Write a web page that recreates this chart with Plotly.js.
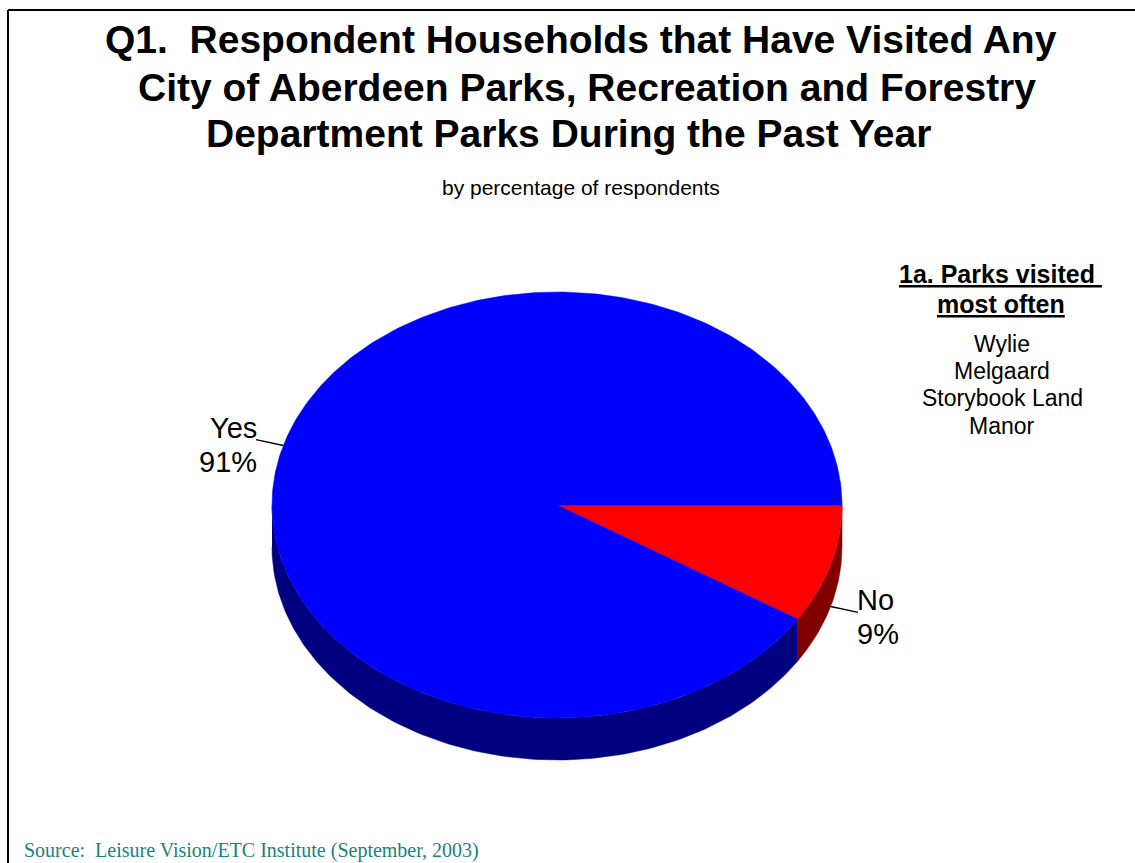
<!DOCTYPE html>
<html>
<head>
<meta charset="utf-8">
<script src="https://cdn.plot.ly/plotly-3.0.1.min.js"></script>
<style>html,body{margin:0;padding:0;background:#fff;}#chart{width:1135px;height:863px;}</style>
</head>
<body>
<div id="chart"></div>
<script>
// ---- data ----
const categories = ['Yes', 'No'];
const values = [91, 9];
const topColors = ['#0000FF', '#FF0000'];
const sideColors = ['#000080', '#800000'];
const parks = ['Wylie', 'Melgaard', 'Storybook Land', 'Manor'];
const titleLines = [
  'Q1.  Respondent Households that Have Visited Any',
  'City of Aberdeen Parks, Recreation and Forestry',
  'Department Parks During the Past Year'
];
const subtitleText = 'by percentage of respondents';
const boxTitle = ['1a. Parks visited ', 'most often'];
const sourceText = 'Source:  Leisure Vision/ETC Institute (September, 2003)';

// ---- geometry (pixel-space axes) ----
const W = 1135, H = 863;
const CX = 557, CY = 505, RX = 285, RY = 213, DEPTH = 42;
const FONT = 'Arial, "Liberation Sans", sans-serif';

function pt(deg, drop) {
  const t = deg * Math.PI / 180;
  return [CX + RX * Math.cos(t), CY - RY * Math.sin(t) + (drop || 0)];
}
function arc(lo, hi, drop) {
  const n = Math.max(2, Math.ceil((hi - lo) / 1));
  const xs = [], ys = [];
  for (let i = 0; i <= n; i++) {
    const p = pt(lo + (hi - lo) * i / n, drop);
    xs.push(p[0]); ys.push(p[1]);
  }
  return [xs, ys];
}

const total = values.reduce((a, b) => a + b, 0);
const slices = [];
let ang = 0;
for (let i = categories.length - 1; i >= 0; i--) {
  const sweep = values[i] / total * 360;
  slices.push({ i: i, lo: ang - sweep, hi: ang });
  ang -= sweep;
}

const traces = [];
// side walls
slices.forEach(s => {
  [[-180, 0], [-540, -360]].forEach(v => {
    const lo = Math.max(s.lo, v[0]), hi = Math.min(s.hi, v[1]);
    if (hi - lo > 0.01) {
      const top = arc(lo, hi, 0), bot = arc(lo, hi, DEPTH);
      traces.push({
        type: 'scatter', mode: 'lines', fill: 'toself',
        x: top[0].concat(bot[0].slice().reverse()),
        y: top[1].concat(bot[1].slice().reverse()),
        fillcolor: sideColors[s.i], line: { color: sideColors[s.i], width: 0.5 },
        hoverinfo: 'skip', showlegend: false
      });
    }
  });
});
// top faces
slices.forEach(s => {
  const a = arc(s.lo, s.hi, 0);
  traces.push({
    type: 'scatter', mode: 'lines', fill: 'toself',
    x: [CX].concat(a[0]).concat([CX]),
    y: [CY].concat(a[1]).concat([CY]),
    fillcolor: topColors[s.i], line: { color: topColors[s.i], width: 0.5 },
    hoverinfo: 'skip', showlegend: false
  });
});

// labels with leader lines
const annotations = [];
slices.forEach(s => {
  const mid = (s.lo + s.hi) / 2;
  const t = mid * Math.PI / 180;
  const front = Math.sin(t) < 0;
  const drop = front ? DEPTH : 0;
  const a = pt(mid, drop);
  const b = [CX + 1.1 * RX * Math.cos(t), CY - 1.1 * RY * Math.sin(t) + drop];
  traces.push({
    type: 'scatter', mode: 'lines', x: [a[0], b[0]], y: [a[1], b[1]],
    line: { color: '#000', width: 1.5 }, hoverinfo: 'skip', showlegend: false
  });
  const left = Math.cos(t) < 0;
  const lines = [categories[s.i], Math.round(values[s.i] / total * 100) + '%'];
  const offs = [-12, 22];
  lines.forEach((txt, k) => {
    annotations.push({
      x: b[0] + (left ? 3 : -3), y: b[1] + offs[k], xref: 'x', yref: 'y',
      text: txt, showarrow: false, xanchor: left ? 'right' : 'left', yanchor: 'middle',
      font: { family: FONT, size: 29, color: '#000' }
    });
  });
});

// title lines
const titleY = [40, 87, 133];
const titleX = [581, 587, 568];
titleLines.forEach((txt, k) => {
  annotations.push({
    x: titleX[k] / W, y: 1 - titleY[k] / H, xref: 'paper', yref: 'paper',
    text: '<b>' + txt + '</b>', showarrow: false, xanchor: 'center', yanchor: 'middle',
    font: { family: FONT, size: 39, color: '#000' }
  });
});
annotations.push({
  x: 581 / W, y: 1 - 187 / H, xref: 'paper', yref: 'paper', text: subtitleText,
  showarrow: false, xanchor: 'center', yanchor: 'middle',
  font: { family: FONT, size: 21, color: '#000' }
});
const boxY = [274, 304];
const boxX = [1001, 1001];
boxTitle.forEach((txt, k) => {
  annotations.push({
    x: boxX[k] / W, y: 1 - boxY[k] / H, xref: 'paper', yref: 'paper',
    text: '<b><u>' + txt + '</u></b>', showarrow: false, xanchor: 'center', yanchor: 'middle',
    font: { family: FONT, size: 25, color: '#000' }
  });
});
const parkY = [344, 371, 398, 426];
parks.forEach((txt, k) => {
  annotations.push({
    x: 1002 / W, y: 1 - parkY[k] / H, xref: 'paper', yref: 'paper',
    text: txt, showarrow: false, xanchor: 'center', yanchor: 'middle',
    font: { family: FONT, size: 23, color: '#000' }
  });
});
annotations.push({
  x: 22 / W, y: 1 - 850 / H, xref: 'paper', yref: 'paper', text: sourceText,
  showarrow: false, xanchor: 'left', yanchor: 'middle',
  font: { family: '"Times New Roman", "Liberation Serif", serif', size: 20, color: '#1A8080' }
});

const layout = {
  width: W, height: H,
  margin: { l: 0, r: 0, t: 0, b: 0, pad: 0 },
  paper_bgcolor: '#fff', plot_bgcolor: '#fff',
  showlegend: false,
  xaxis: { range: [0, W], visible: false, fixedrange: true },
  yaxis: { range: [H, 0], visible: false, fixedrange: true },
  annotations: annotations,
  shapes: [
    { type: 'line', xref: 'paper', yref: 'paper', x0: 8 / W, x1: 1, y0: 1 - 10 / H, y1: 1 - 10 / H, line: { color: '#000', width: 2 } },
    { type: 'line', xref: 'paper', yref: 'paper', x0: 8 / W, x1: 8 / W, y0: 0, y1: 1 - 10 / H, line: { color: '#000', width: 2 } }
  ]
};

Plotly.newPlot('chart', traces, layout, { displayModeBar: false, staticPlot: true });
</script>
</body>
</html>
